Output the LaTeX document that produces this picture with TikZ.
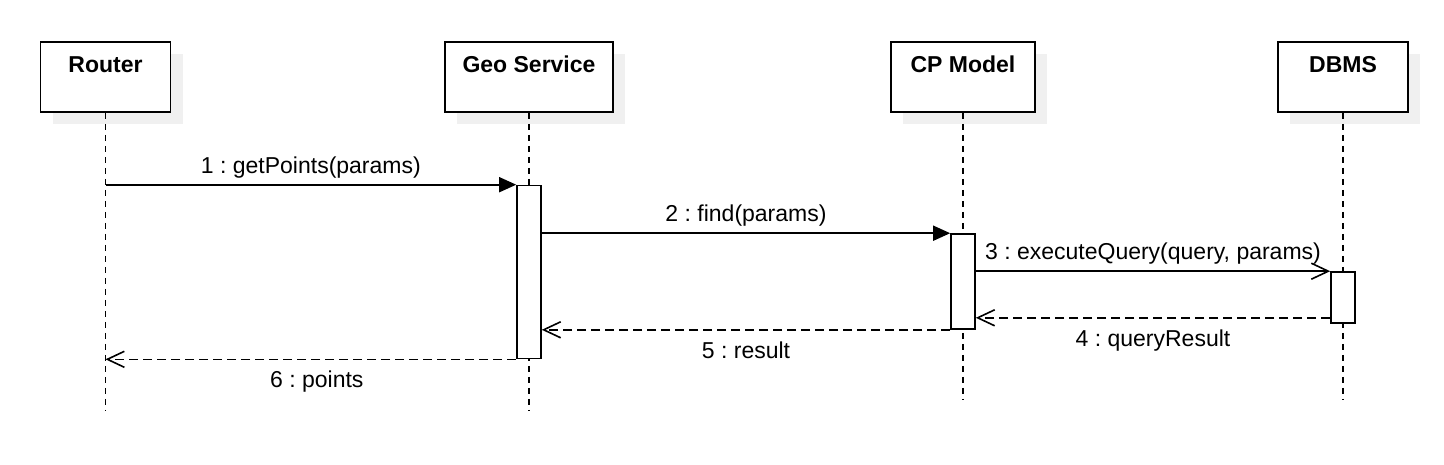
\documentclass[tikz,border=0pt]{standalone}
\usepackage{fontspec}
\setmainfont{Liberation Sans}
\usetikzlibrary{arrows.meta,shadows}
\frenchspacing

\begin{document}
\begin{tikzpicture}[x=1pt,y=-1pt,line width=1.6pt]
  \def\fs{\fontsize{23pt}{28pt}\selectfont}
  \def\ly{410.5}
  \def\lz{400}

\tikzstyle{head}=[draw,fill=white,font=\fs\bfseries,minimum height=70pt,inner ysep=13pt,text height=17pt,text depth=27pt,general shadow={fill=black!6,shadow xshift=12pt,shadow yshift=-12pt}]
\tikzstyle{act}=[draw,fill=white,minimum width=24pt,inner sep=0pt]
\tikzstyle{life}=[line width=1.7pt,dash pattern=on 6pt off 5pt]
\tikzstyle{call}=[-{Triangle[length=17pt,width=15pt]}]
\tikzstyle{sync}=[-{Straight Barb[length=17pt,width=16pt]}]
\tikzstyle{reply}=[dash pattern=on 9pt off 5pt,-{Straight Barb[length=17pt,width=16pt]}]
\tikzstyle{up}=[font=\fs,above,inner ysep=6pt]
\tikzstyle{down}=[font=\fs,below,inner ysep=11pt]

\useasboundingbox (0,0) rectangle (1444,464);

\node[head][minimum width=130pt] (R) at (105.5,77) {Router};
\node[head][minimum width=168pt] (G) at (529,77) {Geo Service};
\node[head][minimum width=144pt] (C) at (963,77) {CP Model};
\node[head][minimum width=130pt] (D) at (1343,77) {DBMS};
\coordinate (Re) at (105.5,\ly);
\coordinate (Ge) at (529,\ly);
\coordinate (Ce) at (963,\lz);
\coordinate (De) at (1343,\lz);
\draw[life] (R) -- (Re);
\draw[life] (G) -- (Ge);
\draw[life] (C) -- (Ce);
\draw[life] (D) -- (De);
\node[act][minimum height=173pt] (GA) at (529,272) {};
\node[act][minimum height=95pt] (CA) at (963,281.5) {};
\node[act][minimum height=51pt] (DA) at (1343,297.5) {};
\draw[call] (R |- GA.north) -- node[up] {1 : getPoints(params)} (GA.north west);
\draw[call] (GA.east |- CA.north) -- node[up] {2 : find(params)} (CA.north west);
\draw[sync] (CA.east |- DA.north) -- node[up] {3 : executeQuery(query, params)} (DA.north west);
\coordinate (Q) at ([yshift=6pt]DA.south west);
\draw[reply] (Q) -- node[down] {4 : queryResult} (Q -| CA.east);
\draw[reply] (CA.south west) -- node[down] {5 : result} (CA.south west -| GA.east);
\draw[reply] (GA.south west) -- node[down, xshift=6pt] {6 : points} (GA.south west -| R);
\end{tikzpicture}
\end{document}
